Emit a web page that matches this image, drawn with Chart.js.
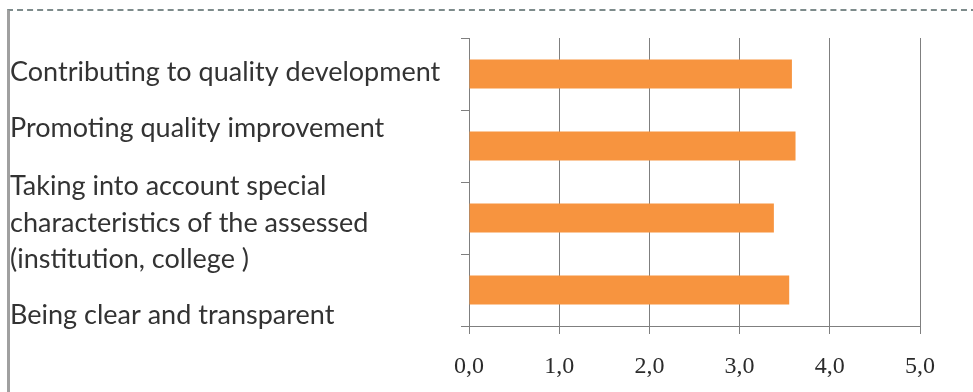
<!DOCTYPE html>
<html lang="en">
<head>
  <meta charset="UTF-8">
  <title>Assessment criteria</title>
  <script src="https://cdn.jsdelivr.net/npm/chart.js"></script>
  <style>
    html, body { margin: 0; padding: 0; background: #fff; }
    #wrap { position: relative; width: 973px; height: 392px; overflow: hidden; }
    #frame {
      position: absolute; left: 7px; top: 9px; right: -4px; bottom: -4px;
      border-top: 2px dashed #7d8b8b;
      border-left: 3px solid #a0a0a0;
    }
    canvas { position: absolute; left: 0; top: 0; }
  </style>
</head>
<body>
<div id="wrap">
  <div id="frame"></div>
  <canvas id="chart" width="973" height="392"></canvas>
</div>

<script>
  const categories = [
    ['Contributing to quality development'],
    ['Promoting quality improvement'],
    ['Taking into account special', 'characteristics of the assessed', '(institution, college )'],
    ['Being clear and transparent']
  ];
  const scores = [3.58, 3.62, 3.38, 3.55];
  const xTicks = [0, 1, 2, 3, 4, 5];

  // label placement inside each band (they are not centred on the bars)
  const labelShift = [-2, -18, 5, 25];
  const lineGap = 36.5;

  const sideLabels = {
    id: 'sideLabels',
    afterDraw(chart) {
      const ctx = chart.ctx;
      const y = chart.scales.y;
      ctx.save();
      ctx.fillStyle = '#333';
      ctx.font = '27px Lato';
      ctx.textAlign = 'left';
      ctx.textBaseline = 'middle';
      categories.forEach((lines, i) => {
        const mid = y.getPixelForValue(i) + labelShift[i];
        lines.forEach((t, k) => {
          const off = (k - (lines.length - 1) / 2) * lineGap;
          ctx.fillText(t, 10, mid + off);
        });
      });
      ctx.restore();
    }
  };

  new Chart(document.getElementById('chart'), {
    type: 'bar',
    data: {
      labels: categories.map(l => l.join(' ')),
      datasets: [{
        data: scores,
        backgroundColor: '#f7943f',
        borderWidth: 0,
        barPercentage: 0.4,
        categoryPercentage: 1
      }]
    },
    options: {
      indexAxis: 'y',
      responsive: false,
      animation: false,
      layout: { padding: { top: 38, right: 53, left: 0, bottom: 0 } },
      plugins: { legend: { display: false }, tooltip: { enabled: false } },
      scales: {
        x: {
          min: 0, max: 5,
          afterBuildTicks(s) { s.ticks = xTicks.map(v => ({ value: v })); },
          afterFit(s) { s.height = 66; },
          grid: { color: '#7f7f7f', lineWidth: 1, tickLength: 8, drawTicks: true },
          border: { color: '#7f7f7f', width: 1 },
          ticks: {
            padding: 18,
            color: '#2b2b2b',
            font: { family: 'Liberation Serif', size: 24 },
            callback: v => v.toFixed(1).replace('.', ',')
          }
        },
        y: {
          offset: true,
          afterFit(s) { s.width = 469; },
          grid: { offset: true, drawOnChartArea: false, drawTicks: true, tickLength: 8, color: '#7f7f7f' },
          border: { color: '#7f7f7f', width: 1 },
          ticks: { display: false }
        }
      }
    },
    plugins: [sideLabels]
  });
</script>
</body>
</html>
